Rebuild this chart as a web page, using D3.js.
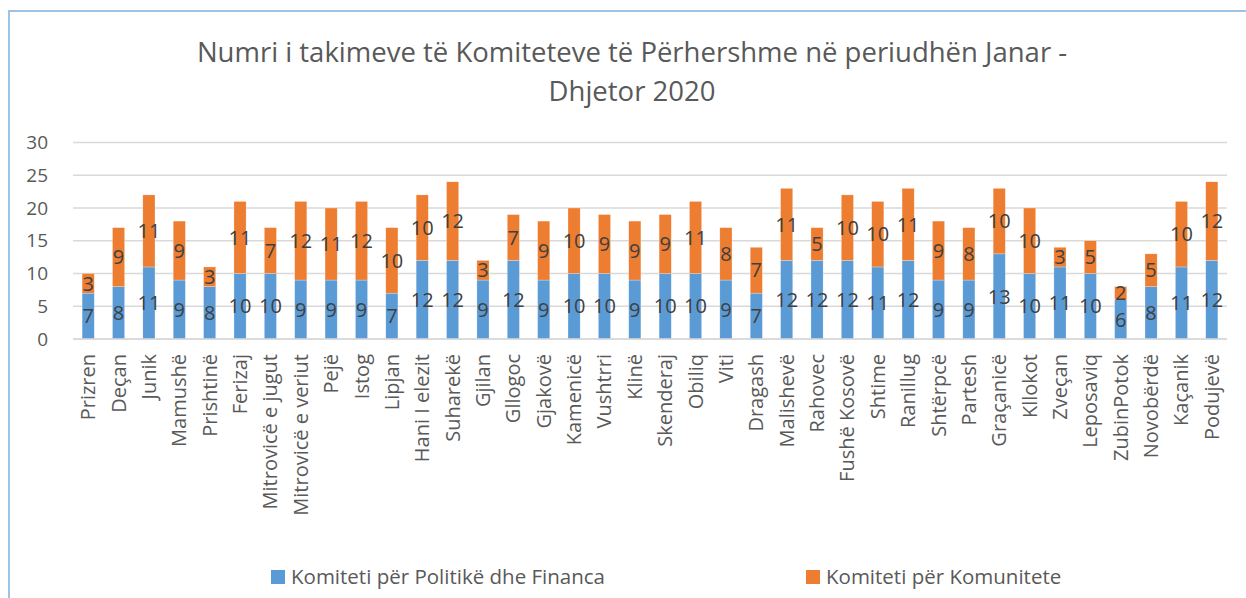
<!DOCTYPE html>
<meta charset="utf-8">
<style>
body { margin: 0; background: #fff; }
text { font-family: "Open Sans", sans-serif; }
</style>
<svg width="1246" height="598"></svg>
<script src="https://d3js.org/d3.v7.min.js"></script>
<script>
var svg = d3.select("svg"),
    width = +svg.attr("width"),
    height = +svg.attr("height");

// komunat
var categories = ["Prizren", "Deçan", "Junik", "Mamushë", "Prishtinë", "Ferizaj",
  "Mitrovicë e jugut", "Mitrovicë e veriut", "Pejë", "Istog", "Lipjan", "Hani I elezit",
  "Suharekë", "Gjilan", "Gllogoc", "Gjakovë", "Kamenicë", "Vushtrri", "Klinë", "Skenderaj",
  "Obiliq", "Viti", "Dragash", "Malishevë", "Rahovec", "Fushë Kosovë", "Shtime", "Ranillug",
  "Shtërpcë", "Partesh", "Graçanicë", "Kllokot", "Zveçan", "Leposaviq", "ZubinPotok",
  "Novobërdë", "Kaçanik", "Podujevë"];

var politikeFinanca = [7, 8, 11, 9, 8, 10, 10, 9, 9, 9, 7, 12, 12, 9, 12, 9, 10, 10, 9, 10,
  10, 9, 7, 12, 12, 12, 11, 12, 9, 9, 13, 10, 11, 10, 6, 8, 11, 12];
var komunitete = [3, 9, 11, 9, 3, 11, 7, 12, 11, 12, 10, 10, 12, 3, 7, 9, 10, 9, 9, 9,
  11, 8, 7, 11, 5, 10, 10, 11, 9, 8, 10, 10, 3, 5, 2, 5, 10, 12];

var seriesNames = ["Komiteti për Politikë dhe Financa", "Komiteti për Komunitete"];
var colors = ["#5b9bd5", "#ed7d31"];
var yTicks = [0, 5, 10, 15, 20, 25, 30];

var margin = {top: 142, right: 19, bottom: 259, left: 73};

// chart frame (only top, left, bottom edges visible)
svg.append("path")
    .attr("d", "M9,598 V11 H1246")
    .attr("fill", "none")
    .attr("stroke", "#9dc3e6")
    .attr("stroke-width", 2);

// title
var title = svg.append("text")
    .attr("text-anchor", "middle")
    .attr("fill", "#595959")
    .style("font-size", "27.5px");
title.append("tspan").attr("x", 632).attr("y", 62)
    .text("Numri i takimeve të Komiteteve të Përhershme në periudhën Janar -");
title.append("tspan").attr("x", 632).attr("y", 101)
    .text("Dhjetor 2020");

var x = d3.scaleBand()
    .domain(categories)
    .range([margin.left, width - margin.right])
    .paddingInner(0.6)
    .paddingOuter(0.3);

var y = d3.scaleLinear()
    .domain([0, 30])
    .range([339, 142.5]);

// gridlines
svg.append("g")
    .selectAll("line")
    .data(yTicks)
    .enter().append("line")
    .attr("x1", margin.left)
    .attr("x2", width - margin.right)
    .attr("y1", function(d) { return y(d); })
    .attr("y2", function(d) { return y(d); })
    .attr("stroke", "#d9d9d9")
    .attr("stroke-width", 1.5);

// y axis labels
var yAxis = svg.append("g")
    .attr("transform", "translate(" + (margin.left - 25) + ",0)")
    .call(d3.axisLeft(y).tickValues(yTicks).tickSize(0).tickPadding(0));
yAxis.select(".domain").remove();
yAxis.selectAll("text")
    .attr("fill", "#595959")
    .style("font-size", "19px");

// stacked data
var rows = categories.map(function(c, i) {
  return {cat: c, a: politikeFinanca[i], b: komunitete[i]};
});
var stack = d3.stack().keys(["a", "b"])(rows);

var layers = svg.append("g")
    .selectAll("g")
    .data(stack)
    .enter().append("g")
    .attr("fill", function(d, i) { return colors[i]; });

layers.selectAll("rect")
    .data(function(d) { return d; })
    .enter().append("rect")
    .attr("x", function(d) { return x(d.data.cat); })
    .attr("width", x.bandwidth())
    .attr("y", function(d) { return y(d[1]); })
    .attr("height", function(d) { return y(d[0]) - y(d[1]); })
    .attr("stroke", "#fff")
    .attr("stroke-width", 0.5)
    .attr("stroke-opacity", 0.5);

// data labels
layers.selectAll("text")
    .data(function(d) { return d; })
    .enter().append("text")
    .attr("x", function(d) { return x(d.data.cat) + x.bandwidth() / 2; })
    .attr("y", function(d) { return y((d[0] + d[1]) / 2); })
    .attr("dy", "0.36em")
    .attr("text-anchor", "middle")
    .attr("fill", "#404040")
    .style("font-size", "20px")
    .text(function(d) { return d[1] - d[0]; });

// x axis line
svg.append("line")
    .attr("x1", margin.left)
    .attr("x2", width - margin.right)
    .attr("y1", y(0))
    .attr("y2", y(0))
    .attr("stroke", "#d9d9d9")
    .attr("stroke-width", 1.5);

// x labels
var xAxis = svg.append("g")
    .attr("transform", "translate(0," + y(0) + ")")
    .call(d3.axisBottom(x).tickSize(0).tickPadding(0));
xAxis.select(".domain").remove();
xAxis.selectAll("text")
    .attr("transform", "rotate(-90)")
    .attr("x", -15)
    .attr("y", 0)
    .attr("dy", "0.35em")
    .attr("text-anchor", "end")
    .attr("fill", "#595959")
    .style("font-size", "20px");

// legend
var legendX = [271, 806];
var legend = svg.append("g")
    .selectAll("g")
    .data(seriesNames)
    .enter().append("g")
    .attr("transform", function(d, i) { return "translate(" + legendX[i] + ",570)"; });
legend.append("rect")
    .attr("width", 14)
    .attr("height", 14)
    .attr("fill", function(d, i) { return colors[i]; });
legend.append("text")
    .attr("x", 20)
    .attr("y", 7)
    .attr("dy", "0.35em")
    .attr("fill", "#595959")
    .style("font-size", "20.5px")
    .text(function(d) { return d; });
</script>
